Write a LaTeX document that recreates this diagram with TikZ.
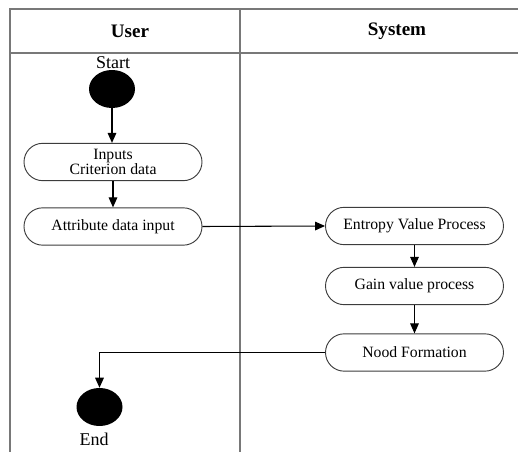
\documentclass[tikz,border=0pt]{standalone}
\usepackage{fontspec}
\setmainfont{Liberation Serif}
\usetikzlibrary{shapes.geometric,arrows.meta}

\tikzset{
  lane/.style={draw={rgb,255:red,120;green,120;blue,120},line width=1.3pt},
  activity/.style={draw={rgb,255:red,60;green,60;blue,60},line width=0.7pt,rounded corners=14pt,
    minimum width=133.5pt,minimum height=28pt,inner sep=0pt,align=center,
    font=\fontsize{11.8}{11.5}\selectfont},
  blob/.style={ellipse,fill=black,minimum width=34.5pt,minimum height=28.5pt,inner sep=0pt},
  flow/.style={line width=0.8pt,-{Triangle[length=7.5pt,width=6.5pt]}},
}

\begin{document}
\begin{tikzpicture}[x=0.75pt,y=0.75pt,yscale=-1,xscale=1]
\useasboundingbox (0,0) rectangle (518,452);

%Swimlanes
\draw [lane] (10,452) -- (10,9) -- (518,9) ;
\draw [lane] (10,53) -- (518,53) ;
\draw [lane] (240,9) -- (240,452) ;

% Text Node
\draw (130,31) node [font=\fontsize{14.3}{16}\selectfont\bfseries] (user) {User};
% Text Node
\draw (397,31) node [font=\fontsize{14.3}{16}\selectfont\bfseries] (system) {System};

%Start and end
\draw (112,89) node [blob] (start) {};
\draw (113,63) node [font=\fontsize{13.5}{15}\selectfont] (startlbl) {Start};
\draw (99.5,407) node [blob] (end) {};
\draw (94,439) node [font=\fontsize{13.5}{15}\selectfont] (endlbl) {End};

%Activities
\draw (113,162) node [activity] (inputs) {Inputs\\Criterion data};
\draw (113,226.5) node [activity] (attr) {Attribute data input};
\draw (414.5,226) node [activity] (entropy) {Entropy Value Process};
\draw (414.5,286) node [activity] (gain) {Gain value process};
\draw (414.5,352.5) node [activity] (nood) {Nood Formation};

%Flows
\draw [flow] (start.south) -- (start.south |- inputs.north) ;
\draw [flow] (inputs) -- (attr) ;
\draw [flow] (attr.east) -- (entropy.west) ;
\draw [flow] (entropy) -- (gain) ;
\draw [flow] (gain) -- (nood) ;
\draw [flow] (nood.west) -| (end.north) ;

\end{tikzpicture}
\end{document}
